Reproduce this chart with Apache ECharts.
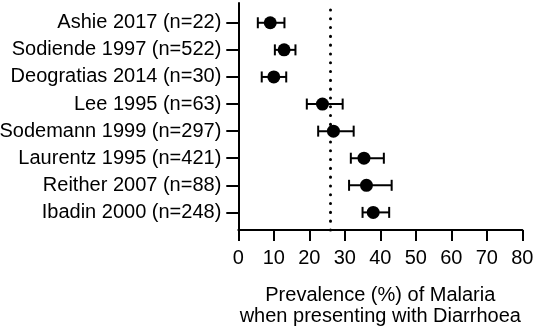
<!DOCTYPE html>
<html>
<head>
<meta charset="utf-8">
<script src="https://cdn.jsdelivr.net/npm/echarts@6/dist/echarts.min.js"></script>
<style>html,body{margin:0;padding:0;background:#fff}#c{width:536px;height:332px}</style>
</head>
<body>
<div id="c"></div>
<script>
const studies = ['Ashie 2017 (n=22)','Sodiende 1997 (n=522)','Deogratias 2014 (n=30)','Lee 1995 (n=63)','Sodemann 1999 (n=297)','Laurentz 1995 (n=421)','Reither 2007 (n=88)','Ibadin 2000 (n=248)'];
const prevalence = [9.0, 12.9, 10.0, 23.7, 26.8, 35.4, 36.1, 38.0];
const lower = [5.5, 10.3, 6.6, 19.3, 22.5, 31.7, 31.2, 35.0];
const upper = [13.0, 16.1, 13.5, 29.4, 32.5, 41.0, 43.2, 42.5];
const pooled = 26;
const xTicks = [0,10,20,30,40,50,60,70,80];

const n = studies.length;
const pos = studies.map((s,i)=>n-i); // top row = n
const FONT = 'Arial, "Liberation Sans", sans-serif';

const chart = echarts.init(document.getElementById('c'), null, {renderer:'canvas'});
chart.setOption({
  animation:false,
  grid:{left:238.3, right:13.7, top:3, bottom:102, containLabel:false, outerBoundsMode:'none'},
  xAxis:{
    type:'value', min:xTicks[0], max:xTicks[xTicks.length-1], interval:10,
    axisLine:{show:true, lineStyle:{color:'#000', width:2}},
    axisTick:{show:true, length:11, lineStyle:{color:'#000', width:2}},
    axisLabel:{color:'#000', fontSize:20, fontFamily:FONT, margin:18},
    splitLine:{show:false},
    name:'Prevalence (%) of Malaria\nwhen presenting with Diarrhoea',
    nameLocation:'middle', nameGap:55,
    nameTextStyle:{color:'#000', fontSize:20, fontFamily:FONT, lineHeight:21, verticalAlign:'top'}
  },
  yAxis:{
    type:'value', min:0.35, max:8.73,
    axisLine:{show:true, lineStyle:{color:'#000', width:2}},
    axisTick:{show:true, length:12, customValues:pos, lineStyle:{color:'#000', width:2}},
    axisLabel:{color:'#000', fontSize:20, fontFamily:FONT, margin:17, customValues:pos,
      formatter:(v)=>studies[n-Math.round(v)]},
    splitLine:{show:false}
  },
  series:[
    {
      type:'custom',
      data: studies.map((s,i)=>[pos[i], lower[i], upper[i]]),
      renderItem:(params, api)=>{
        const y = api.value(0);
        const a = api.coord([api.value(1), y]);
        const b = api.coord([api.value(2), y]);
        const h = 5.5;
        const st = {stroke:'#000', lineWidth:2};
        return {type:'group', children:[
          {type:'line', shape:{x1:a[0],y1:a[1],x2:b[0],y2:b[1]}, style:st},
          {type:'line', shape:{x1:a[0],y1:a[1]-h,x2:a[0],y2:a[1]+h}, style:st},
          {type:'line', shape:{x1:b[0],y1:b[1]-h,x2:b[0],y2:b[1]+h}, style:st}
        ]};
      },
      z:2
    },
    {
      type:'scatter',
      data: studies.map((s,i)=>[prevalence[i], pos[i]]),
      symbol:'circle', symbolSize:13,
      itemStyle:{color:'#000', opacity:1},
      z:3,
      markLine:{
        silent:true, symbol:'none', label:{show:false},
        lineStyle:{color:'#000', width:3, type:[0.1, 8.7], cap:'round'},
        data:[{xAxis:pooled}]
      }
    }
  ]
});
</script>
</body>
</html>
